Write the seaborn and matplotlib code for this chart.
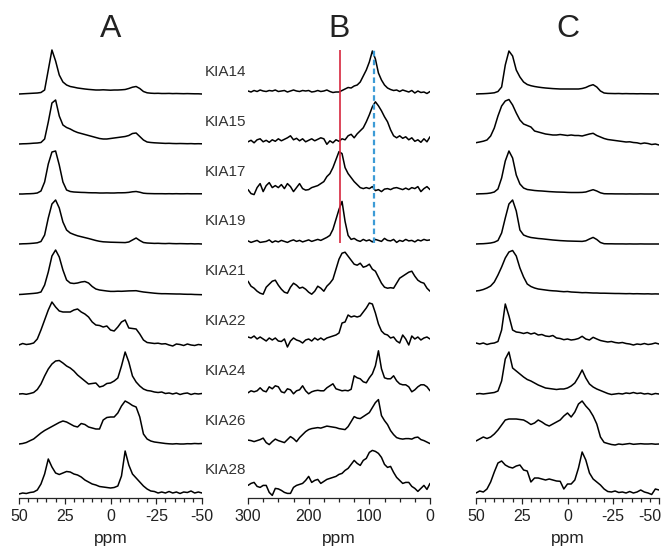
import matplotlib.pyplot as plt
import pandas as pd
import seaborn as sns
from matplotlib.ticker import MultipleLocator

# sample names, top to bottom
samples = ['KIA14', 'KIA15', 'KIA17', 'KIA19', 'KIA21', 'KIA22', 'KIA24', 'KIA26', 'KIA28']

ppm_ac = list(range(50, -51, -2))   # panels A and C
ppm_b = list(range(300, -1, -5))    # panel B

# tick labels of panel C (last one placed by hand so it stays inside)
c_ticks = [50, 25, 0, -25, -50]
c_labels = ['50', '25', '0', '-25', '']

# ---- panel A: signal height above baseline ----
a14 = [0, 0.2, 0.4, 0.6, 0.8, 1, 1.5, 4, 24, 44,
       33, 19, 12, 9, 7.5, 6.8, 6, 5.5, 5, 4.6,
       4.3, 4, 4, 4.2, 4, 3.8, 4, 4, 4.2, 4.5,
       5.5, 6.8, 7.5, 5.5, 2.5, 1.2, 0.8, 0.6, 0.7, 0.5,
       0.5, 0.6, 0.4, 0.5, 0.4, 0.3, 0.4, 0.3, 0.2, 0.2,
       0]
a15 = [0, 0.2, 0.3, 0.5, 0.8, 1, 1.5, 5, 22, 41,
       44, 28, 19, 16.5, 15, 13, 11.5, 10.5, 9.5, 8.5,
       7.5, 6.5, 5.5, 5, 5, 5.5, 6, 6.5, 7, 7.5,
       8.5, 10.5, 11, 7.5, 4, 2, 1.5, 1.2, 1, 0.8,
       0.6, 0.7, 0.5, 0.4, 0.5, 0.4, 0.3, 0.4, 0.2, 0.3,
       0.2]
a17 = [0, 0, 0.2, 0.3, 0.5, 1, 3, 12, 30, 42,
       43, 29, 12, 4, 2.5, 2, 1.8, 1.6, 1.5, 1.3,
       1.2, 1.2, 1, 1, 1.1, 1, 1, 1.2, 1.2, 1.3,
       1.6, 2.2, 2.5, 1.8, 0.8, 0.5, 0.4, 0.3, 0.3, 0.3,
       0.2, 0.3, 0.2, 0.3, 0.2, 0.2, 0.3, 0.2, 0.2, 0.2,
       0.2]
a19 = [0, 0.2, 0.3, 0.5, 0.8, 1.2, 2.5, 9, 26, 40,
       44, 36, 22, 14, 11, 9.5, 8.2, 7.3, 6.4, 5.5,
       4.5, 3.5, 2.7, 2.2, 2, 1.8, 1.7, 1.6, 1.5, 1.4,
       2, 4, 6, 3.5, 1.5, 1, 0.8, 0.6, 0.7, 0.5,
       0.4, 0.6, 0.4, 0.3, 0.4, 0.3, 0.2, 0.3, 0.1, 0.2,
       0]
a21 = [-0.5, -0.3, 0, 0.3, 0.6, 1, 2, 9, 22, 38,
       44, 37, 24, 14, 11, 10.5, 11, 12, 12.5, 11,
       7.5, 5, 4, 3.5, 3, 2.6, 2.6, 2.8, 2.7, 2.9,
       3.1, 3.2, 3.3, 2.6, 2, 1.6, 1.2, 0.8, 0.5, 0.3,
       0.3, 0.2, 0.1, 0, 0, -0.2, -0.3, -0.3, -0.5, -0.6,
       -0.7]
a22 = [-1, 0.5, -0.5, 0, 1, 5, 14, 24, 34, 42,
       37, 33, 32, 32, 32, 34, 35, 32, 30, 27,
       22, 19, 18.5, 17, 18, 14, 13, 17, 22, 24,
       16, 15.5, 15, 10, 4, 1.5, 1, 0.5, 0.8, 0,
       0.3, -1, -2, 0, -0.5, -1.5, 0, -1, -1.5, -0.5,
       -1]
a24 = [0, 0.3, -0.3, 0.5, 1.5, 4.5, 10, 18, 25, 30,
       33, 33.5, 31, 28, 26, 23, 19, 16, 13, 10,
       10.5, 11, 7, 8, 10.5, 11, 13, 16, 28, 42,
       32, 18, 12, 8, 5, 3.5, 3, 2, 1.5, 2,
       0.5, 1, 0, 1, -0.5, 0.5, 1, -0.5, 0.5, 0,
       0.5]
a26 = [0, 0.5, 1.5, 3.3, 5, 8, 11, 13.5, 15.5, 17.5,
       19.5, 21.5, 23, 22, 20, 18, 17, 20.5, 19.5, 17,
       16, 15, 15, 24, 26.5, 27, 27, 31, 38, 43,
       41, 38.5, 37, 27, 10, 5, 3, 2, 1.5, 1,
       0.5, 0.2, 0, 0.3, 0, 0, 0.3, 0.2, 0.5, 0.3,
       0.5]
a28 = [0, 1, 0.5, 1.5, 2, 4, 10, 20, 35, 27,
       21, 19.5, 21, 22.5, 22, 20, 19, 17, 14, 12,
       10, 9, 7.5, 7, 6.5, 6, 6.5, 8, 18, 43,
       29, 20, 16, 12, 8, 5, 3, 2.5, 1, 2,
       1, 2.5, 1, 2, 0.5, 2, 1.5, 3, 1, 2,
       1]

# ---- panel B ----
b14 = [1, 0, 1.5, 0.5, 2, 1, 0.5, 1.5, 1, 2,
       0.5, 1, 1.5, 0, 1, 2, 1, 0.5, 1.5, 1,
       1.5, 0, 0.5, 1.5, 0.5, 1, 2, 0.5, -0.5, 0,
       0, 1.5, 3, 4.5, 4, 6, 7, 10, 16, 22,
       30, 41, 33, 19, 12, 7, 4, 2.5, 1.5, 2,
       0.5, 2, 1, 0, 1.5, -1, 1, -0.5, 0, -1.5,
       0.5]
b15 = [0, 1.5, -1, 2, 3, 0, 1.5, -0.5, 2, 0.5,
       3, 1, 2.5, 4, 6, 2, 3.5, 1, 3, 0,
       1.5, 3, 1, 2.5, 4, 3, -2.5, 1, -1, 2,
       0.5, 3, 2, 6, 7.5, 4, 8, 11, 14, 20,
       27, 35, 40, 36, 31, 25, 20, 12, 6, 4,
       6, 3.5, 5, 2, 4, 0.5, 2, -0.5, 3, 0,
       5]
b17 = [2, -2, -3, 4, 8, 0, 6, 9, 4, 6,
       4, 7, 3, 8, 5, 0, 4, 8, 3, 1.5,
       2, 4, 5, 6, 8, 10, 15, 18, 24, 32,
       40, 38, 24, 18, 14, 10, 7, 4, 3, 4,
       3, 5, 1, 2, 0, 2.5, 3, 2, 3.5, 4,
       3, 2, 3.5, 2, 4, 3, 5, 0, 3, 5,
       2]
b19 = [0.5, -1, 0, 1, -1, -0.5, 0, 1.5, -1, 0.5,
       -0.5, 1, 0, -1, 0.5, 1.5, 0, 1, -0.5, 0.5,
       1.5, 0, 1, 2, 1, 2.5, 4, 6, 12, 22,
       32, 40, 20, 6, 2, 3, 1, 0, 2, 0.5,
       1.5, -0.5, 2, 1, 0, 3, 1, 0.5, 2, -1,
       1, 0, 2, 0.5, 1, -0.5, 1.5, 0.5, 2, 1,
       1.5]
b21 = [10, 5, 3, 0, -2, -3, 4, 7, 10, 11,
       6, 2, -1, -2, 4, 8, 6, 3, 4, 2,
       -1, -3, 0, 5, 3, 0, 5, 8, 12, 22,
       32, 38, 39, 35, 31, 27, 26, 28, 24, 25,
       27, 22, 20, 14, 8, 4, 3, 3.5, 3, 8,
       13, 15, 17, 19, 20, 15, 11, 9, 8, 3,
       0]
b22 = [4, 3, 5, 2, 4, 2, 0, 3, 1, 3,
       0, -0.5, 2, -6, 0, 3, 1, 0, -2, 1,
       2, 0, 3, 1, 3, 1, 3, 4, 5, 6,
       8, 18, 19, 26, 24, 25, 24, 25, 29, 33,
       38, 37, 28, 17, 10, 7, 6, 3, 4, 0,
       -2, 6, 2, -4, 5, 2, 4, 1, 3, 4,
       2]
b24 = [-2, 0, -1, 0, 3, 0, -1, 4, 2, 5,
       4, -1, -2, 2, 1, -3, 0, 1, 5, 0,
       -3, -1, 0, 0.5, 0, 0, 3, 5, 7, 2,
       1, 0, 0.5, 0, 1.5, 15, 13, 12, 9, 8,
       13, 17, 25, 40, 22, 13, 12, 12, 15, 10,
       7, 6, 6, 4, -1, 1, 4, 6, 6, 4,
       0]
b26 = [0.5, 0, -1, 0, 1, 2.5, -2, -4, -1, 1.5,
       0, -1, -2, 1, 4, 2, -1, 3, 6, 9,
       11, 12, 12.5, 13, 12.5, 13.5, 14.5, 14, 13.5, 13,
       12, 11.5, 11, 14, 19, 24, 22.5, 22, 24, 26,
       28, 33, 38, 41, 25, 20, 16, 10, 6, 3,
       2, 1.5, 2, 2, 1.5, 3, 3.5, 1, 0, -1.5,
       -3]
b28 = [5, 7, 8, 4, 3, 5, 5, -2, -5, 2,
       1.5, 0, -2, -3, -3, 3, 5, 6, 7, 10,
       14, 8, 10, 11, 7, 9, 11, 12, 13, 14,
       16, 17, 20, 22, 26, 30, 27, 25, 30, 32,
       38, 40, 39, 37, 33, 26, 23, 24, 18, 13,
       10, 7, 8, 8, 4, 2, -1, 2, 5, 1,
       7]

# ---- panel C ----
c14 = [0, 0.2, 0.3, 0.5, 0.8, 1.2, 2.5, 7, 29, 43,
       38, 24, 17, 12, 9.5, 8.3, 7.5, 6.9, 6.4, 6,
       5.7, 5.4, 5.2, 5, 5, 5, 5, 5, 5, 5.5,
       6.5, 8.2, 9.3, 7, 3, 1, 0.6, 0.5, 0.4, 0.5,
       0.3, 0.4, 0.3, 0.3, 0.2, 0.3, 0.2, 0.2, 0.1, 0.2,
       0]
c15 = [1.3, 2, 2.8, 4, 8, 16, 28, 38, 43, 44.5,
       39, 31, 24, 20, 18.5, 17, 13, 12, 11, 10,
       9.5, 9, 9, 9.5, 9, 8.5, 9, 8.5, 8.5, 8,
       9, 10, 10.7, 8.5, 7, 5.5, 4.5, 4, 3.5, 3,
       2.5, 2, 2.2, 1.5, 1.2, 0.3, 1, 0.5, -0.5, 0,
       -1]
c17 = [0, 0.2, 0.3, 0.5, 1, 2, 5, 16, 33, 43,
       36, 19, 10, 6, 4.5, 4, 3.5, 3.2, 3, 2.7,
       2.4, 2.2, 2, 1.9, 1.8, 1.6, 1.5, 1.5, 1.5, 1.6,
       2, 3.2, 4.3, 3, 1.2, 0.3, 0.2, 0.2, 0.1, 0.1,
       0.1, 0, 0.1, 0, 0, 0.1, 0, 0, 0, 0,
       0]
c19 = [0, 0.2, 0.3, 0.6, 1, 1.8, 3.5, 11, 26, 40,
       44, 33, 14, 9, 7.5, 6.5, 6, 5.5, 5.2, 4.8,
       4.4, 4, 3.7, 3.4, 3.2, 3, 2.9, 2.8, 2.7, 2.6,
       3.2, 5, 6.6, 4.5, 1.5, 0.3, 0.2, 0.2, 0.1, 0.1,
       0.1, 0, 0.1, 0, 0, 0.1, 0, 0, 0, 0,
       0]
c21 = [3, 3.5, 4.5, 6, 8, 12, 19, 27, 36, 42,
       43.5, 38, 26, 17, 10, 7.5, 6, 5, 4.5, 4,
       3.5, 3.2, 3, 2.6, 2.3, 2.5, 2, 1.8, 1.6, 1.3,
       1.4, 1.2, 1, 1, 0.8, 0.8, 0.7, 0.6, 0.5, 0.5,
       0.4, 0.3, 0.4, 0.2, 0.3, 0.2, 0.1, 0.2, 0, 0.1,
       0]
c22 = [1, 0, 1, -0.5, 0.5, 1, 2.5, 14, 40, 28,
       14, 12, 11.5, 10.5, 11.5, 10, 11, 9, 9.5, 8,
       7.5, 8.5, 6, 5.5, 4.3, 5, 4, 4.5, 5.5, 7.7,
       5, 4, 6.7, 5, 3.5, 2.7, 2, 2.5, 1.5, 1,
       1.5, 0.5, 0, -1, 0, -0.5, 0.5, -0.5, 0, 1,
       0]
c24 = [0, 0.5, 0, 0.5, 1, 1.5, 3, 13, 35, 42,
       26, 23, 20, 17, 14.5, 13, 11, 9, 7.5, 6,
       5.5, 5, 4.5, 5, 5, 6, 8, 11, 17, 24,
       16, 10, 7, 5, 3.5, 2, 0.5, -0.5, 0, 0.5,
       0, 1, 0.5, 1.5, 0.5, 1, 0, 0.5, -0.5, 0.5,
       0]
c26 = [3, 5, 7, 5.5, 7, 10, 14, 19, 24, 25,
       25, 25, 24.5, 24, 22, 19.5, 21, 24, 22, 19.5,
       18, 20, 22, 24, 28, 31, 27, 32, 40, 43,
       38, 34, 28, 20, 7, 1.6, 0.5, -0.5, -1, 0,
       -0.5, 0, 0.5, -0.3, 0, 0.3, 0, 0, 0.2, -0.2,
       0]
c28 = [1, 3, 2, 5, 12, 22, 31, 33, 29, 27,
       26, 28, 29, 24, 23, 12, 16, 16, 15, 14,
       15, 14, 13, 12.7, 5, 10, 10, 14, 26, 42,
       34, 21, 15, 12, 9, 5, 2.5, 2, 3, 1.5,
       2, 1, 2.5, 1, 2, 4, 2, 1, -0.5, 5,
       4]

traces_a = [a14, a15, a17, a19, a21, a22, a24, a26, a28]
traces_b = [b14, b15, b17, b19, b21, b22, b24, b26, b28]
traces_c = [c14, c15, c17, c19, c21, c22, c24, c26, c28]


def stack(ppm, traces, top, gap):
    # long table, each spectrum lifted onto its own baseline
    rows = []
    for i, (name, vals) in enumerate(zip(samples, traces)):
        off = top - gap * i
        for p, v in zip(ppm, vals):
            rows.append((name, p, v + off))
    return pd.DataFrame(rows, columns=['sample', 'ppm', 'y'])


df_a = stack(ppm_ac, traces_a, 404, 50)
df_b = stack(ppm_b, traces_b, 406, 49.8)
df_c = stack(ppm_ac, traces_c, 404, 50)

sns.set_style('white')
plt.rcParams['font.family'] = ['Liberation Sans', 'DejaVu Sans']
plt.rcParams['axes.unicode_minus'] = False

W, H = 668, 548
fig = plt.figure(figsize=(W / 100, H / 100), dpi=100)


def panel(x0, x1):
    return fig.add_axes([x0 / W, 50 / H, (x1 - x0) / W, 458 / H])


ax_a = panel(19, 202)
ax_b = panel(248, 430)
ax_c = panel(476, 659)

for ax, df, lims, major, minor, title in [
        (ax_a, df_a, (50, -50), 25, 5, 'A'),
        (ax_b, df_b, (300, 0), 100, 25, 'B'),
        (ax_c, df_c, (50, -50), 25, 5, 'C')]:
    sns.lineplot(data=df, x='ppm', y='y', units='sample', estimator=None,
                 color='black', linewidth=1.1, legend=False, ax=ax,
                 solid_joinstyle='round')
    ax.set_xlim(*lims)
    ax.set_ylim(0, 458)
    ax.set_facecolor('none')
    for s in ['left', 'top', 'right']:
        ax.spines[s].set_visible(False)
    ax.spines['bottom'].set_linewidth(0.9)
    ax.set_yticks([])
    ax.set_ylabel('')
    ax.xaxis.set_major_locator(MultipleLocator(major))
    ax.xaxis.set_minor_locator(MultipleLocator(minor))
    ax.tick_params(axis='x', which='major', length=4.5, width=0.9,
                   labelsize=11.5, colors='#222222', direction='out', bottom=True)
    ax.tick_params(axis='x', which='minor', length=3, width=0.9,
                   colors='#222222', direction='out', bottom=True)
    ax.set_xlabel('ppm', fontsize=12.5, color='#222222', labelpad=5)
    ax.text(0.5, 1.024, title, transform=ax.transAxes, ha='center', va='center',
            fontsize=23, color='#222222')

# panel C: last tick label right-aligned so it stays inside the figure
ax_c.set_xticks(c_ticks, c_labels)
ax_c.annotate('-50', xy=(1, 0), xycoords='axes fraction', xytext=(1.5, -8),
              textcoords='offset points', ha='right', va='top',
              fontsize=11.5, color='#222222')

# sample labels sit to the left of panel B
for i, name in enumerate(samples):
    ax_b.text(371, 406 - 49.8 * i + 20, name, ha='left', va='center',
              fontsize=11, color='#333333', clip_on=False)

# reference positions in panel B
ax_b.vlines(148, 255, 448, colors='#d7263d', linewidth=1.2)
ax_b.vlines(92, 255, 448, colors='#3d9bd6', linewidth=1.6, linestyles=(0, (2.5, 1.5)))

fig.savefig('out.png', dpi=100)
